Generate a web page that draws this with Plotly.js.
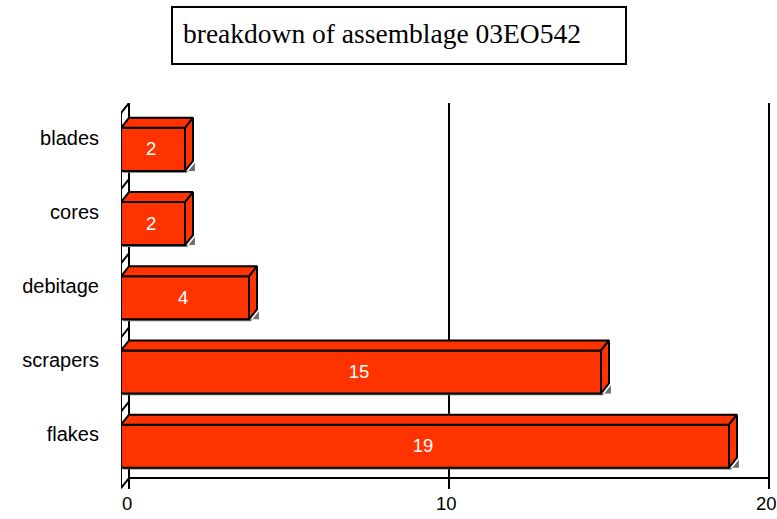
<!DOCTYPE html>
<html>
<head>
<meta charset="utf-8">
<script src="https://cdn.plot.ly/plotly-3.0.1.min.js"></script>
<style>
  html, body { margin: 0; padding: 0; background: #fff; }
  #chart { width: 777px; height: 519px; }
</style>
</head>
<body>
<div id="chart"></div>
<script>
// Assemblage breakdown, bottom to top
const categories = ["flakes", "scrapers", "debitage", "cores", "blades"];
const counts = [19, 15, 4, 2, 2];
const tickValues = [0, 10, 20];
const titleText = "breakdown of assemblage 03EO542";

// Pseudo-3D geometry (in axis units)
const DX = 0.25;    // depth offset along x
const DY = 0.135;   // depth offset along y
const H = 0.29;     // half height of a bar's front face
const TOP = 4.625;  // back-wall top
const FLOOR = -0.43; // back-wall bottom
const XMAX = 20.0625;
const RED = "#ff3300";
const EDGE = { color: "#000", width: 2 };
const SANS = "Liberation Sans, Arial, sans-serif";

const traces = [];

function poly(xs, ys, fill, line, name) {
  traces.push({
    type: "scatter", mode: "lines", x: xs, y: ys,
    fill: "toself", fillcolor: fill, line: line,
    hoverinfo: "skip", showlegend: false, name: name
  });
}

// left side wall
poly([0, -DX, -DX, 0, 0], [TOP, TOP - DY, FLOOR - DY, FLOOR, TOP], "#fff", EDGE, "wall");
// category dividers on the wall
for (let k = 0; k < categories.length - 1; k++) {
  const yb = k + 0.6;
  traces.push({
    type: "scatter", mode: "lines", x: [0, -DX], y: [yb, yb - DY],
    line: EDGE, hoverinfo: "skip", showlegend: false
  });
}
// floor edge
traces.push({
  type: "scatter", mode: "lines", x: [0, 20], y: [FLOOR, FLOOR],
  line: EDGE, hoverinfo: "skip", showlegend: false
});

// bars
const sx = 0.06, sy = 0.025;
categories.forEach((cat, i) => {
  const v = counts[i];
  const x0 = -DX, x1 = v - DX;
  // drop shadow
  poly([x0 + sx, x1 + sx, v + sx, v + sx, x0 + sx],
       [i - H - sy, i - H - sy, i - H + DY - sy, i - H, i - H],
       "#6e6e6e", { width: 0 }, cat + " shadow");
  // front face
  poly([x0, x1, x1, x0, x0], [i - H, i - H, i + H, i + H, i - H], RED, EDGE, cat);
  // top face
  poly([x0, 0, v, x1, x0], [i + H, i + H + DY, i + H + DY, i + H, i + H], RED, EDGE, cat + " top");
  // side face
  poly([x1, v, v, x1, x1], [i - H, i - H + DY, i + H + DY, i + H, i - H], RED, EDGE, cat + " side");
});

// value labels on the front faces
traces.push({
  type: "scatter", mode: "text",
  x: counts.map(v => v / 2 - DX - 0.06),
  y: categories.map((c, i) => i - 0.02),
  text: counts.map(String),
  textfont: { family: SANS, size: 18.5, color: "#fff" },
  textposition: "middle center",
  hoverinfo: "skip", showlegend: false
});

// x tick labels (placed as annotations so the last one stays inside the page)
const tickAnnotations = tickValues.map(v => ({
  text: String(v), xref: "x", yref: "paper",
  x: v, y: 0, xanchor: "center", yanchor: "top",
  xshift: -2.5, yshift: -2,
  showarrow: false,
  font: { family: SANS, size: 18.5, color: "#000" }
}));

const layout = {
  width: 777, height: 519,
  margin: { l: 121, r: 6, t: 103, b: 30 },
  paper_bgcolor: "#fff", plot_bgcolor: "#fff",
  showlegend: false,
  xaxis: {
    range: [-DX, XMAX], tickvals: tickValues, showticklabels: false,
    showgrid: true, gridcolor: "#000", gridwidth: 2,
    zeroline: false, showline: false, ticks: "",
    fixedrange: true
  },
  yaxis: {
    range: [-0.577, TOP],
    tickvals: categories.map((c, i) => i + 0.16), ticktext: categories,
    showgrid: false, zeroline: false, showline: false, ticks: "",
    ticklabelstandoff: 21,
    tickfont: { family: SANS, size: 20, color: "#000" },
    fixedrange: true
  },
  shapes: [{
    type: "rect", xref: "paper", yref: "paper",
    x0: (172 - 121) / 650, x1: (626 - 121) / 650,
    y0: (489 - 64) / 386, y1: (489 - 7) / 386,
    line: { color: "#000", width: 2 }, fillcolor: "rgba(0,0,0,0)"
  }],
  annotations: [{
    text: titleText, xref: "paper", yref: "paper",
    x: (181 - 121) / 650, xanchor: "left",
    y: (489 - 33) / 386, yanchor: "middle",
    showarrow: false, align: "left",
    font: { family: "Liberation Serif, Times New Roman, serif", size: 27.5, color: "#000" }
  }].concat(tickAnnotations)
};

Plotly.newPlot("chart", traces, layout, { displayModeBar: false, staticPlot: true });
</script>
</body>
</html>
